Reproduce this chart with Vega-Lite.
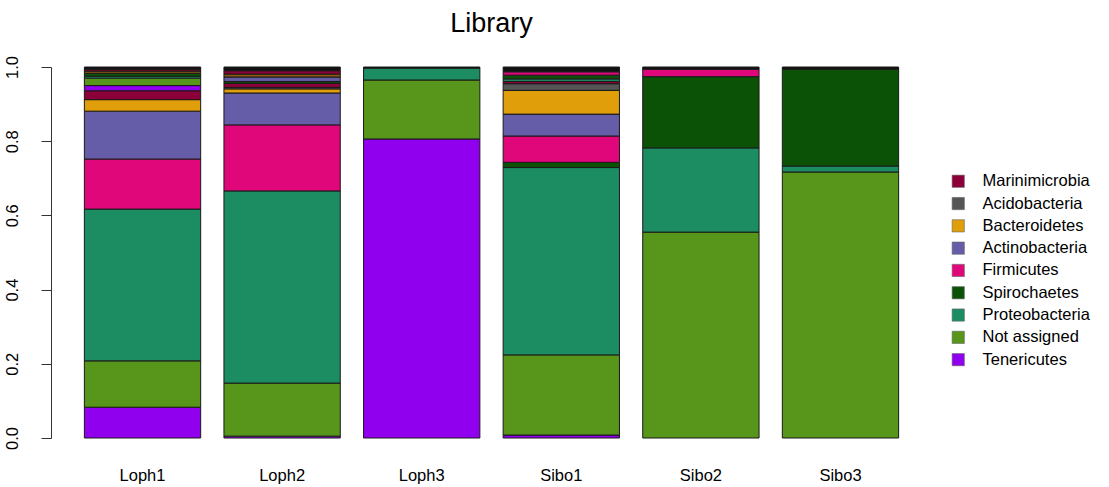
{
  "$schema": "https://vega.github.io/schema/vega-lite/v6.json",
  "autosize": {"type": "none"},
  "padding": {"left": 51, "top": 67, "right": 177, "bottom": 49},
  "width": 881,
  "height": 371,
  "background": "white",
  "title": {"text": "Library", "font": "Liberation Sans", "fontSize": 27, "fontWeight": "normal", "color": "black", "frame": "group", "anchor": "middle", "offset": 18},
  "data": {"values": [
    {"sample": "Loph1", "phylum": "Tenericutes", "value": 0.083},
    {"sample": "Loph1", "phylum": "Not assigned", "value": 0.125},
    {"sample": "Loph1", "phylum": "Proteobacteria", "value": 0.409},
    {"sample": "Loph1", "phylum": "Firmicutes", "value": 0.135},
    {"sample": "Loph1", "phylum": "Actinobacteria", "value": 0.129},
    {"sample": "Loph1", "phylum": "Bacteroidetes", "value": 0.031},
    {"sample": "Loph1", "phylum": "Marinimicrobia", "value": 0.024},
    {"sample": "Loph1", "phylum": "Other 1", "value": 0.014},
    {"sample": "Loph1", "phylum": "Other 2", "value": 0.020},
    {"sample": "Loph1", "phylum": "Other 3", "value": 0.005},
    {"sample": "Loph1", "phylum": "Other 4", "value": 0.008},
    {"sample": "Loph1", "phylum": "Other 7", "value": 0.006},
    {"sample": "Loph1", "phylum": "Other 8", "value": 0.005},
    {"sample": "Loph1", "phylum": "Other 9", "value": 0.006},
    {"sample": "Loph2", "phylum": "Tenericutes", "value": 0.005},
    {"sample": "Loph2", "phylum": "Not assigned", "value": 0.143},
    {"sample": "Loph2", "phylum": "Proteobacteria", "value": 0.518},
    {"sample": "Loph2", "phylum": "Firmicutes", "value": 0.178},
    {"sample": "Loph2", "phylum": "Actinobacteria", "value": 0.086},
    {"sample": "Loph2", "phylum": "Bacteroidetes", "value": 0.011},
    {"sample": "Loph2", "phylum": "Acidobacteria", "value": 0.004},
    {"sample": "Loph2", "phylum": "Marinimicrobia", "value": 0.011},
    {"sample": "Loph2", "phylum": "Other 4", "value": 0.005},
    {"sample": "Loph2", "phylum": "Other 6", "value": 0.012},
    {"sample": "Loph2", "phylum": "Other 7", "value": 0.008},
    {"sample": "Loph2", "phylum": "Other 8", "value": 0.009},
    {"sample": "Loph2", "phylum": "Other 9", "value": 0.010},
    {"sample": "Loph3", "phylum": "Tenericutes", "value": 0.806},
    {"sample": "Loph3", "phylum": "Not assigned", "value": 0.159},
    {"sample": "Loph3", "phylum": "Proteobacteria", "value": 0.032},
    {"sample": "Loph3", "phylum": "Other 9", "value": 0.003},
    {"sample": "Sibo1", "phylum": "Tenericutes", "value": 0.008},
    {"sample": "Sibo1", "phylum": "Not assigned", "value": 0.216},
    {"sample": "Sibo1", "phylum": "Proteobacteria", "value": 0.505},
    {"sample": "Sibo1", "phylum": "Spirochaetes", "value": 0.014},
    {"sample": "Sibo1", "phylum": "Firmicutes", "value": 0.071},
    {"sample": "Sibo1", "phylum": "Actinobacteria", "value": 0.059},
    {"sample": "Sibo1", "phylum": "Bacteroidetes", "value": 0.064},
    {"sample": "Sibo1", "phylum": "Acidobacteria", "value": 0.018},
    {"sample": "Sibo1", "phylum": "Marinimicrobia", "value": 0.006},
    {"sample": "Sibo1", "phylum": "Other 3", "value": 0.007},
    {"sample": "Sibo1", "phylum": "Other 4", "value": 0.010},
    {"sample": "Sibo1", "phylum": "Other 5", "value": 0.009},
    {"sample": "Sibo1", "phylum": "Other 9", "value": 0.013},
    {"sample": "Sibo2", "phylum": "Not assigned", "value": 0.555},
    {"sample": "Sibo2", "phylum": "Proteobacteria", "value": 0.227},
    {"sample": "Sibo2", "phylum": "Spirochaetes", "value": 0.192},
    {"sample": "Sibo2", "phylum": "Firmicutes", "value": 0.020},
    {"sample": "Sibo2", "phylum": "Other 9", "value": 0.006},
    {"sample": "Sibo3", "phylum": "Not assigned", "value": 0.717},
    {"sample": "Sibo3", "phylum": "Proteobacteria", "value": 0.016},
    {"sample": "Sibo3", "phylum": "Spirochaetes", "value": 0.261},
    {"sample": "Sibo3", "phylum": "Other 9", "value": 0.006}
  ]},
  "transform": [
    {"calculate": "indexof(['Tenericutes','Not assigned','Proteobacteria','Spirochaetes','Firmicutes','Actinobacteria','Bacteroidetes','Acidobacteria','Marinimicrobia','Other 1','Other 2','Other 3','Other 4','Other 5','Other 6','Other 7','Other 8','Other 9'], datum.phylum)", "as": "rank"}
  ],
  "mark": {"type": "bar", "stroke": "#1a1a1a", "strokeWidth": 1},
  "encoding": {
    "x": {
      "field": "sample", "type": "nominal",
      "scale": {"paddingInner": 0.1667, "paddingOuter": 0.239},
      "axis": {"title": null, "labelAngle": 0, "ticks": false, "domain": false, "labelPadding": 29, "labelFont": "Liberation Sans", "labelFontSize": 16.5, "labelColor": "black"}
    },
    "y": {
      "field": "value", "type": "quantitative", "stack": "zero",
      "scale": {"domain": [0, 1], "nice": false, "zero": true},
      "axis": {"title": null, "values": [0, 0.2, 0.4, 0.6, 0.8, 1.0], "format": ".1f", "grid": false, "tickSize": 10, "tickColor": "#333", "domainColor": "#333", "labelAngle": 270, "labelAlign": "center", "labelBaseline": "bottom", "labelPadding": 21, "labelFont": "Liberation Sans", "labelFontSize": 16.5, "labelColor": "black"}
    },
    "color": {
      "field": "phylum", "type": "nominal",
      "scale": {
        "domain": ["Tenericutes","Not assigned","Proteobacteria","Spirochaetes","Firmicutes","Actinobacteria","Bacteroidetes","Acidobacteria","Marinimicrobia","Other 1","Other 2","Other 3","Other 4","Other 5","Other 6","Other 7","Other 8","Other 9"],
        "range": ["#9100EE","#57961A","#1C8C63","#0B5206","#E0077A","#665DA8","#E19E0B","#555555","#8B0038","#9100EE","#57961A","#1C8C63","#0B5206","#E0077A","#665DA8","#8B5B12","#8B0038","#111111"]
      },
      "legend": {
        "values": ["Marinimicrobia","Acidobacteria","Bacteroidetes","Actinobacteria","Firmicutes","Spirochaetes","Proteobacteria","Not assigned","Tenericutes"],
        "title": null, "orient": "none", "legendX": 899, "legendY": 106,
        "symbolType": "square", "symbolSize": 150, "symbolStrokeColor": "#666", "symbolStrokeWidth": 0.6, "symbolOpacity": 1,
        "labelFont": "Liberation Sans", "labelFontSize": 16.5, "labelColor": "black", "labelOffset": 16, "rowPadding": 5.3
      }
    },
    "order": {"field": "rank", "type": "quantitative", "sort": "ascending"}
  },
  "config": {"view": {"stroke": null}}
}
